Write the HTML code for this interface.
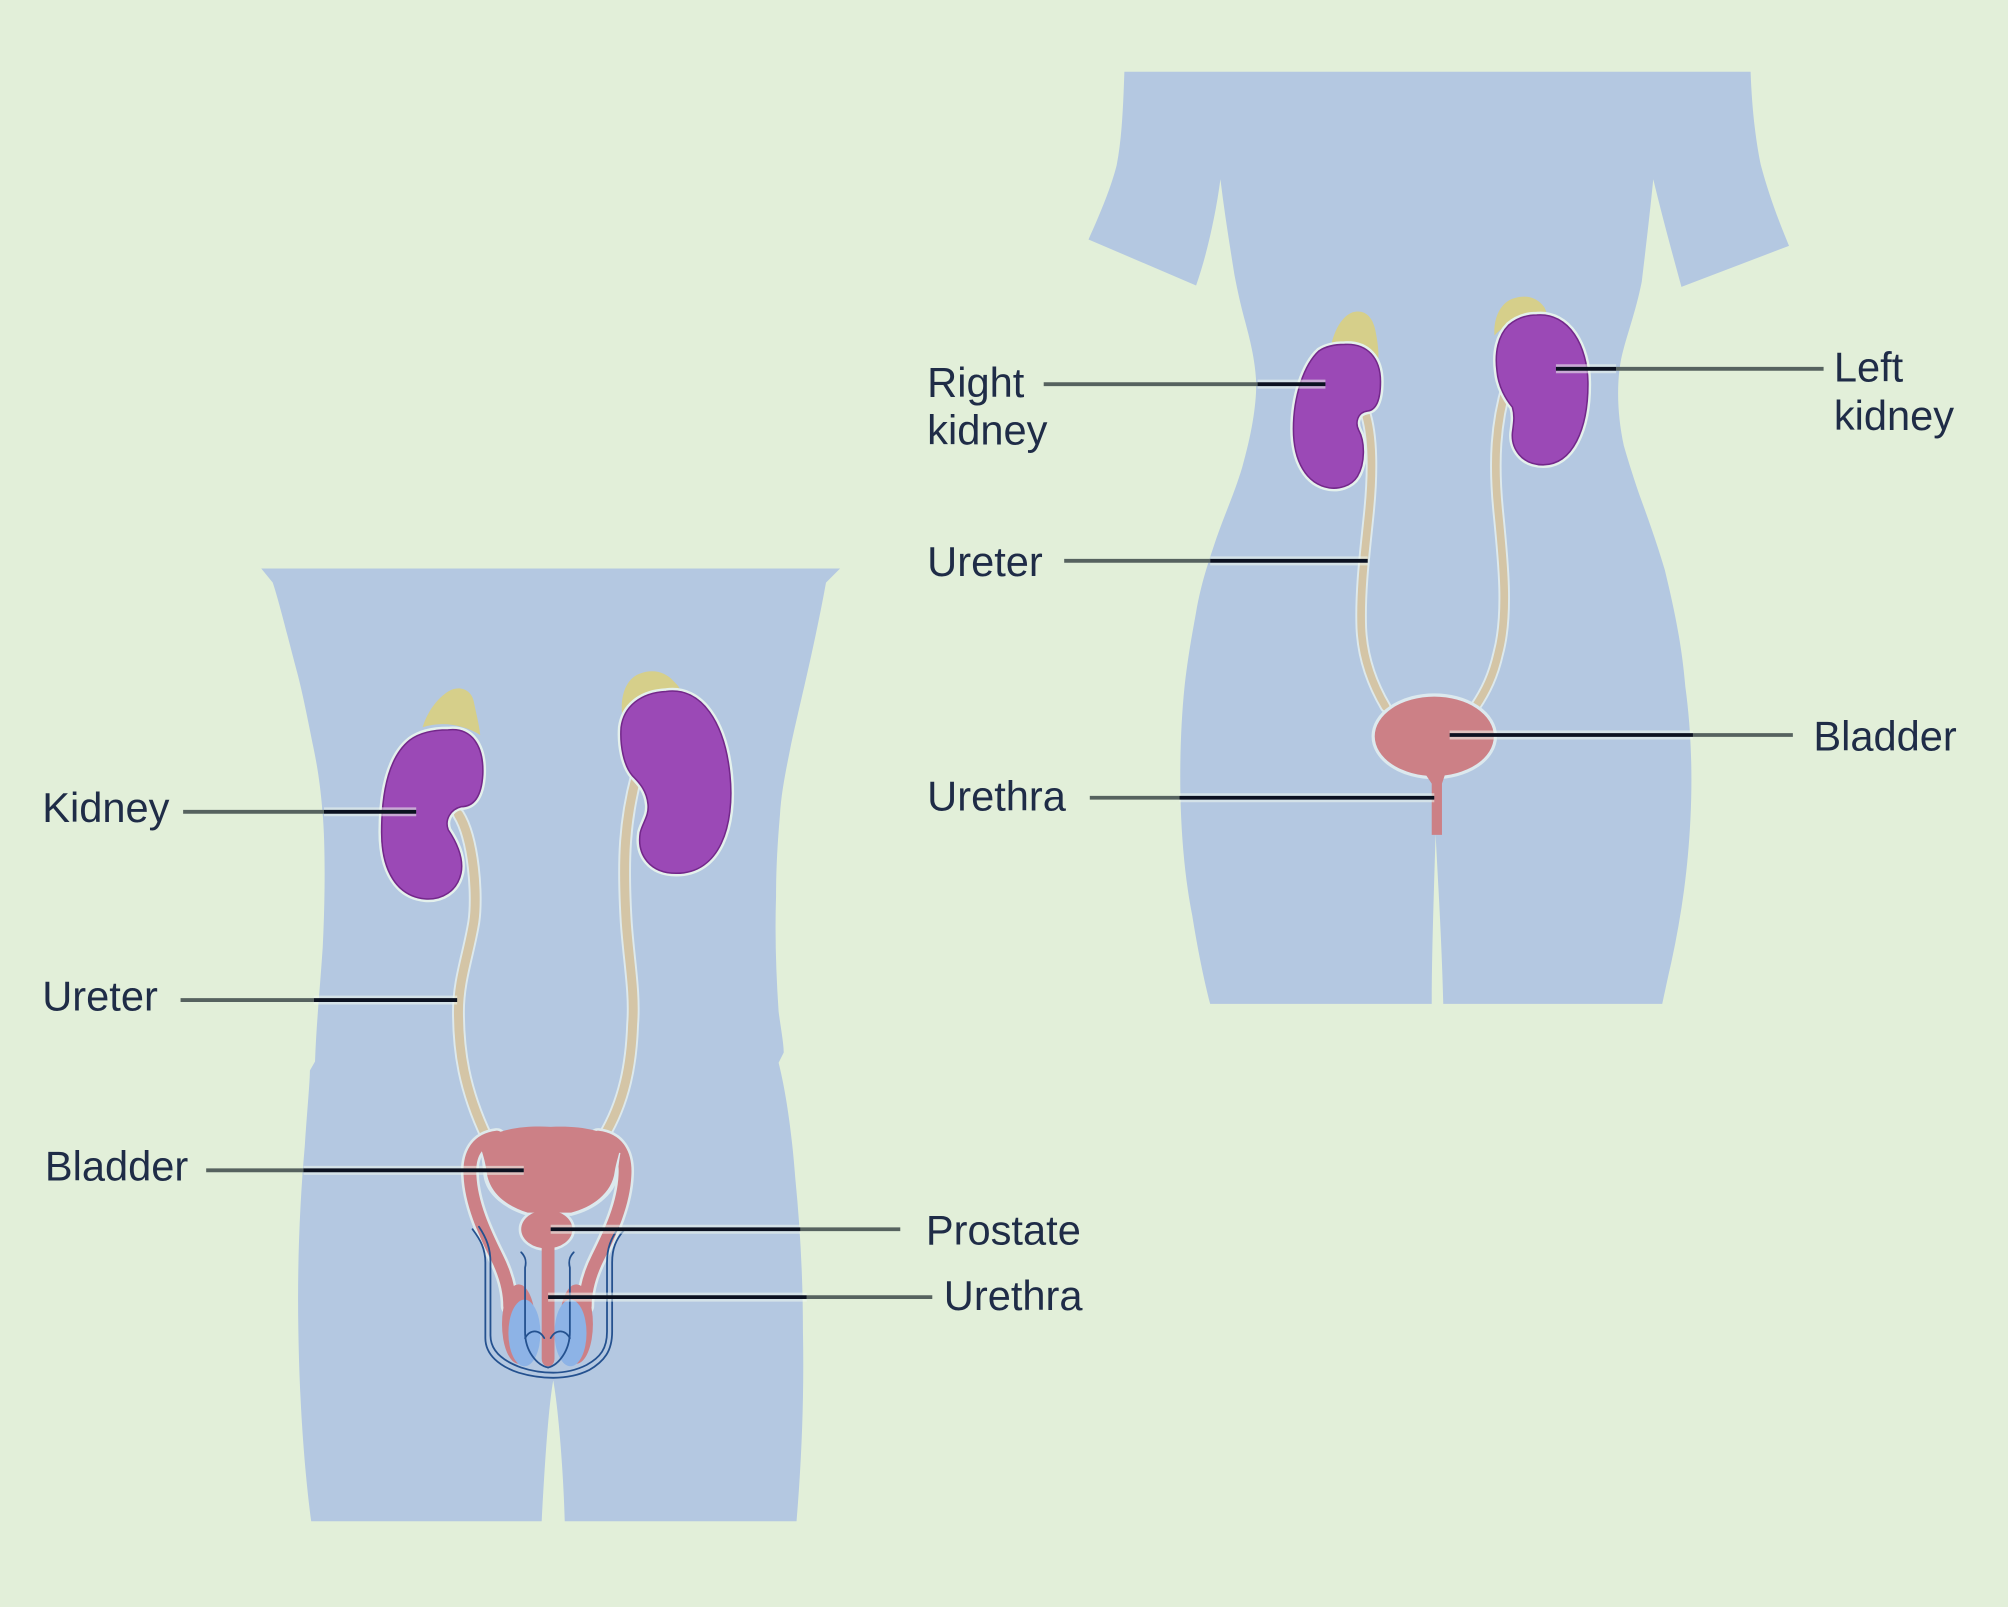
<!DOCTYPE html>
<html><head><meta charset="utf-8"><style>
html,body{margin:0;padding:0;background:#e2efd9;}
svg{display:block;}
text{font-family:"Liberation Sans",Arial,sans-serif;font-size:32.5px;fill:#1f2c47;}
</style></head><body>
<svg width="2008" height="1607" viewBox="0 0 1568 1255" preserveAspectRatio="none" xmlns="http://www.w3.org/2000/svg">
<rect x="0" y="0" width="1568" height="1255" fill="#e2efd9"/>

<!-- MALE BODY -->
<path fill="#b4c8e1" d="M204,444 L656,444 L645,455 C635,510 622,560 617,585 C613,605 610,620 609,637 C607,660 606,680 606,700 C605,730 606,760 608,790 C610,805 612,815 612,822 L608,830 C613,850 618,880 621,920 C625,960 627,1000 627,1040 C628,1090 626,1140 622,1188 L441,1188 C440,1150 436,1100 432,1078 C428,1100 425,1150 423,1188 L243,1188 C238,1150 234,1100 233,1040 C232,990 234,940 238,895 C240,865 242,845 242,836 L246,829 C247,800 250,770 252,740 C254,700 254,660 252,636 C250,610 247,595 245,585 C240,560 236,540 232,525 C224,495 218,470 213,455 Z"/>

<!-- FEMALE BODY -->
<path fill="#b4c8e1" d="M878,56 L1367,56 C1368,85 1371,110 1375,129 C1382,155 1390,175 1397,192 L1313,224 C1305,195 1297,165 1291,140 C1288,170 1285,195 1282,220 C1277,245 1270,262 1266,280 C1262,300 1263,325 1268,348 C1272,362 1276,374 1280,386 C1287,405 1294,425 1300,445 C1306,470 1313,500 1316,536 C1320,565 1322,600 1320,640 C1318,680 1313,715 1305,752 C1302,765 1300,775 1298,784 L1127,784 C1126,740 1123,690 1121,651 C1120,690 1118,740 1118,784 L945,784 C940,765 935,740 931,715 C926,690 923,660 922,630 C921,600 922,565 925,536 C928,510 931,495 934,478 C938,455 944,438 950,420 C957,400 964,385 970,365 C977,340 981,318 981,299 C980,280 976,265 972,250 C968,235 966,225 964,215 C960,190 956,165 953,140 C949,170 942,200 934,223 L850,187 C860,165 868,145 872,129 C876,108 877,85 878,56 Z"/>

<!-- ===== MALE ORGANS ===== -->
<g stroke-linecap="round" fill="none">
  <path d="M358,636 C370,655 373,700 370,720 C366,745 358,765 358,790 C358,820 362,850 380,888" stroke="#dde9ec" stroke-width="10"/>
  <path d="M497,606 C488,640 486,670 489,720 C491,750 496,775 494,800 C493,830 488,860 471,888" stroke="#dde9ec" stroke-width="10"/>
  <path d="M358,636 C370,655 373,700 370,720 C366,745 358,765 358,790 C358,820 362,850 380,888" stroke="#d4c5a6" stroke-width="7"/>
  <path d="M497,606 C488,640 486,670 489,720 C491,750 496,775 494,800 C493,830 488,860 471,888" stroke="#d4c5a6" stroke-width="7"/>
</g>

<!-- male adrenals -->
<path d="M330,568 C334,555 342,545 350,540 C358,535 368,538 370,548 C372,558 374,565 375,574 C362,566 345,563 330,568 Z" fill="#d6cf8a"/>
<path d="M486,560 C484,545 488,530 500,526 C510,522 520,525 526,532 C530,536 532,538 531,542 C515,540 498,548 486,560 Z" fill="#d6cf8a"/>

<!-- male kidneys -->
<g stroke-linejoin="round">
  <path d="M350,570 C368,568 378,582 377,605 C376,622 370,630 360,630 C352,632 347,640 350,648 C358,660 362,672 360,682 C357,696 345,703 332,702 C310,700 298,680 298,650 C298,615 305,590 320,578 C328,572 338,570 350,570 Z" fill="none" stroke="#e4f1ec" stroke-width="5"/>
  <path d="M350,570 C368,568 378,582 377,605 C376,622 370,630 360,630 C352,632 347,640 350,648 C358,660 362,672 360,682 C357,696 345,703 332,702 C310,700 298,680 298,650 C298,615 305,590 320,578 C328,572 338,570 350,570 Z" fill="#9b49b6" stroke="#73278a" stroke-width="1.2"/>
  <path d="M520,540 C548,536 566,565 570,605 C574,645 562,682 528,682 C508,682 497,668 500,650 C502,642 507,637 506,628 C505,618 500,612 494,606 C487,598 484,582 485,568 C487,552 500,541 520,540 Z" fill="none" stroke="#e4f1ec" stroke-width="5"/>
  <path d="M520,540 C548,536 566,565 570,605 C574,645 562,682 528,682 C508,682 497,668 500,650 C502,642 507,637 506,628 C505,618 500,612 494,606 C487,598 484,582 485,568 C487,552 500,541 520,540 Z" fill="#9b49b6" stroke="#73278a" stroke-width="1.2"/>
</g>

<!-- male genital/bladder -->
<g stroke-linecap="round" fill="none">
  <path d="M388,888 C372,890 366,902 367,918 C368,940 378,962 388,982 C395,996 398,1008 398,1020" stroke="#dde9ec" stroke-width="14"/>
  <path d="M467,888 C483,890 489,902 488,918 C487,940 477,962 467,982 C460,996 457,1008 457,1020" stroke="#dde9ec" stroke-width="14"/>
  <path d="M388,888 C372,890 366,902 367,918 C368,940 378,962 388,982 C395,996 398,1008 398,1020" stroke="#cc8086" stroke-width="10"/>
  <path d="M467,888 C483,890 489,902 488,918 C487,940 477,962 467,982 C460,996 457,1008 457,1020" stroke="#cc8086" stroke-width="10"/>
</g>
<!-- epididymis + testes -->
<ellipse cx="405" cy="1034" rx="13" ry="31" fill="#cc8086"/>
<ellipse cx="450" cy="1034" rx="13" ry="31" fill="#cc8086"/>
<ellipse cx="409.5" cy="1041" rx="12.5" ry="26" fill="#8db3e6"/>
<ellipse cx="445.5" cy="1041" rx="12.5" ry="26" fill="#8db3e6"/>
<!-- bladder halos -->
<path d="M378,900 C379,908 380,915 380,918 C382,932 396,942 412,947 L446,947 C462,943 478,932 480,918 C480,912 481,906 482,900" fill="none" stroke="#dce9ee" stroke-width="5"/>
<ellipse cx="427" cy="960" rx="20" ry="15" fill="none" stroke="#dce9ee" stroke-width="4"/>
<!-- bladder -->
<path d="M374,893 C388,881 410,879 430,880 C452,879 472,882 485,893 C484,900 481,908 480,915 C478,932 462,943 446,947 L412,947 C396,942 382,932 380,915 C379,908 377,900 374,893 Z" fill="#cc8086"/>
<ellipse cx="427" cy="960" rx="20" ry="15" fill="#cc8086"/>
<path d="M423,962 L433,962 L433,1061 C433,1069 423,1069 423,1061 Z" fill="#cc8086"/>
<!-- blue lines -->
<g fill="none" stroke="#24518f" stroke-width="1.4" stroke-linecap="round">
  <path d="M369,960 C375,968 379,975 379,986 L379,1045 C379,1058 390,1067 405,1072 C415,1075 424,1076 432,1076 C442,1076 452,1074 460,1070 C472,1063 478,1055 478,1040 L478,986 C478,975 481,968 487,961"/>
  <path d="M374,958 C380,967 383,975 383,986 L383,1043 C383,1055 393,1063 407,1068 C416,1071 424,1072 432,1072 C441,1072 450,1070 458,1066 C469,1060 474,1053 474,1040 L474,986 C474,975 477,967 483,959"/>
  <path d="M407,978 C411,982 411,986 410,990 L410,1040 C410,1055 419,1066 428,1068"/>
  <path d="M448,978 C444,982 444,986 445,990 L445,1040 C445,1055 436,1066 428,1068"/>
  <path d="M410,1045 C414,1038 421,1038 425,1045"/>
  <path d="M445,1045 C441,1038 434,1038 430,1045"/>
</g>

<!-- ===== FEMALE ORGANS ===== -->
<g stroke-linecap="round" fill="none">
  <path d="M1066,322 C1072,340 1072,370 1069,400 C1066,430 1062,460 1063,490 C1064,515 1072,535 1082,552" stroke="#dde9ec" stroke-width="9"/>
  <path d="M1177,300 C1168,330 1166,360 1170,400 C1174,440 1178,480 1170,510 C1166,528 1160,540 1152,552" stroke="#dde9ec" stroke-width="9"/>
  <path d="M1066,322 C1072,340 1072,370 1069,400 C1066,430 1062,460 1063,490 C1064,515 1072,535 1082,552" stroke="#d4c5a6" stroke-width="6"/>
  <path d="M1177,300 C1168,330 1166,360 1170,400 C1174,440 1178,480 1170,510 C1166,528 1160,540 1152,552" stroke="#d4c5a6" stroke-width="6"/>
</g>
<!-- adrenals -->
<path d="M1038,278 C1040,262 1046,248 1056,244 C1066,241 1072,248 1074,258 C1076,268 1077,276 1076,284 C1064,272 1050,270 1038,278 Z" fill="#d6cf8a"/>
<path d="M1167,262 C1166,248 1172,236 1182,233 C1192,230 1200,232 1206,240 C1208,244 1208,246 1206,248 C1190,246 1176,252 1167,262 Z" fill="#d6cf8a"/>
<!-- kidneys -->
<g stroke-linejoin="round">
  <path d="M1050,269 C1068,268 1078,280 1078,298 C1078,312 1075,320 1068,321 C1060,322 1058,330 1061,336 C1066,345 1066,362 1060,372 C1055,380 1045,382 1038,381 C1020,378 1010,360 1010,335 C1010,310 1018,285 1030,274 C1036,270 1043,269 1050,269 Z" fill="none" stroke="#e4f1ec" stroke-width="5"/>
  <path d="M1050,269 C1068,268 1078,280 1078,298 C1078,312 1075,320 1068,321 C1060,322 1058,330 1061,336 C1066,345 1066,362 1060,372 C1055,380 1045,382 1038,381 C1020,378 1010,360 1010,335 C1010,310 1018,285 1030,274 C1036,270 1043,269 1050,269 Z" fill="#9b49b6" stroke="#73278a" stroke-width="1.2"/>
  <path d="M1200,246 C1225,244 1240,270 1240,300 C1240,335 1228,363 1205,363 C1188,363 1180,350 1181,338 C1182,330 1183,325 1181,318 C1176,312 1170,302 1169,290 C1167,275 1170,262 1178,254 C1185,248 1192,246 1200,246 Z" fill="none" stroke="#e4f1ec" stroke-width="5"/>
  <path d="M1200,246 C1225,244 1240,270 1240,300 C1240,335 1228,363 1205,363 C1188,363 1180,350 1181,338 C1182,330 1183,325 1181,318 C1176,312 1170,302 1169,290 C1167,275 1170,262 1178,254 C1185,248 1192,246 1200,246 Z" fill="#9b49b6" stroke="#73278a" stroke-width="1.2"/>
</g>
<!-- bladder + urethra -->
<ellipse cx="1120" cy="575" rx="47" ry="31.5" fill="none" stroke="#dce9ee" stroke-width="4"/>
<path d="M1110,600 L1130,600 L1126,612 L1126,652 L1118,652 L1118,612 Z" fill="#cc8086"/>
<ellipse cx="1120" cy="575" rx="46.5" ry="31" fill="#cc8086"/>

<!-- ===== LEADER LINES ===== -->
<g stroke-width="3" fill="none">
  <g stroke="#eef7ef" stroke-width="7" opacity="0.55">
    <line x1="253" y1="634" x2="325" y2="634"/>
    <line x1="245" y1="781" x2="357" y2="781"/>
    <line x1="237" y1="914" x2="409" y2="914"/>
    <line x1="430" y1="960" x2="625" y2="960"/>
    <line x1="428" y1="1013" x2="630" y2="1013"/>
    <line x1="982" y1="300" x2="1035" y2="300"/>
    <line x1="945" y1="438" x2="1068" y2="438"/>
    <line x1="921" y1="623" x2="1120" y2="623"/>
    <line x1="1215" y1="288" x2="1262" y2="288"/>
    <line x1="1132" y1="574" x2="1322" y2="574"/>
  </g>
  <g stroke="#56625f">
    <line x1="143" y1="634" x2="253" y2="634"/>
    <line x1="141" y1="781" x2="245" y2="781"/>
    <line x1="161" y1="914" x2="237" y2="914"/>
    <line x1="625" y1="960" x2="703" y2="960"/>
    <line x1="630" y1="1013" x2="728" y2="1013"/>
    <line x1="815" y1="300" x2="982" y2="300"/>
    <line x1="831" y1="438" x2="945" y2="438"/>
    <line x1="851" y1="623" x2="921" y2="623"/>
    <line x1="1262" y1="288" x2="1424" y2="288"/>
    <line x1="1322" y1="574" x2="1400" y2="574"/>
  </g>
  <g stroke="#0b1120">
    <line x1="253" y1="634" x2="325" y2="634"/>
    <line x1="245" y1="781" x2="357" y2="781"/>
    <line x1="237" y1="914" x2="409" y2="914"/>
    <line x1="430" y1="960" x2="625" y2="960"/>
    <line x1="428" y1="1013" x2="630" y2="1013"/>
    <line x1="982" y1="300" x2="1035" y2="300"/>
    <line x1="945" y1="438" x2="1068" y2="438"/>
    <line x1="921" y1="623" x2="1120" y2="623"/>
    <line x1="1215" y1="288" x2="1262" y2="288"/>
    <line x1="1132" y1="574" x2="1322" y2="574"/>
  </g>
</g>

<!-- ===== LABELS ===== -->
<text x="33" y="642">Kidney</text>
<text x="33" y="789">Ureter</text>
<text x="35" y="922">Bladder</text>
<text x="723" y="972">Prostate</text>
<text x="737" y="1023">Urethra</text>
<text x="724" y="310">Right</text>
<text x="724" y="347">kidney</text>
<text x="724" y="450">Ureter</text>
<text x="724" y="633">Urethra</text>
<text x="1432" y="298">Left</text>
<text x="1432" y="336">kidney</text>
<text x="1416" y="586">Bladder</text>
</svg>
</body></html>
